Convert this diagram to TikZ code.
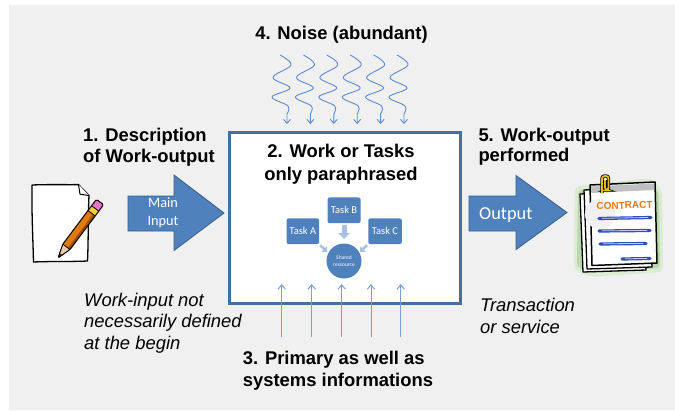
\documentclass[tikz,border=0pt]{standalone}
\usepackage{fontspec}
\setmainfont{Liberation Sans}
\newfontfamily\calfont{Carlito}
\usetikzlibrary{arrows.meta,calc}
\definecolor{bgc}{HTML}{F0F0F0}
\definecolor{boxb}{HTML}{41719C}
\definecolor{mblue}{HTML}{4F81BD}
\definecolor{dblue}{HTML}{385D8A}
\definecolor{lblue}{HTML}{A9C1E0}
\definecolor{nblue}{HTML}{5B8BD0}
\definecolor{ublue}{HTML}{7A9FD2}
\definecolor{pencilor}{HTML}{E07A10}
\definecolor{pencildk}{HTML}{A04E00}
\definecolor{wood}{HTML}{F2C9A0}
\definecolor{ferrule}{HTML}{F2D23C}
\definecolor{eraser}{HTML}{E874C8}
\definecolor{glowA}{HTML}{DCEBD4}
\definecolor{glowB}{HTML}{B9D9AC}
\definecolor{corange}{HTML}{F07818}
\definecolor{barblue}{HTML}{2E4EC0}
\definecolor{clipgold}{HTML}{E8B820}
\begin{document}
\begin{tikzpicture}[x=1pt,y=-1pt,
  lbl/.style={font=\fontsize{18.4}{21}\selectfont\bfseries, inner sep=0pt},
  ital/.style={font=\fontsize{18.4}{21}\selectfont\itshape, inner sep=0pt, anchor=base west},
  bigarrow/.style={fill=mblue, draw=dblue, line width=0.8pt},
  task/.style={fill=mblue, rounded corners=2pt, inner sep=0pt, text=white,
    font=\calfont\fontsize{10.5}{12}\selectfont, minimum height=25.7pt},
  smallarr/.style={draw=lblue, line width=2.6pt, -{Triangle[length=4pt,width=7.5pt]}},
  noise/.style={draw=nblue, line width=0.9pt, -{Straight Barb[length=4pt,width=7pt]}},
  uparr/.style={draw=ublue, line width=1pt, -{Straight Barb[length=4.5pt,width=7.5pt]}},
  wtext/.style={text=white, inner sep=0pt, anchor=base}
]
\useasboundingbox (0,0) rectangle (675,410);
\fill[white] (0,0) rectangle (675,410);
\fill[bgc] (9,5) rectangle (675,410);

% ---------- main box ----------
\node[draw=boxb, line width=2.5pt, fill=white, minimum width=231pt, minimum height=171pt,
      inner sep=0pt, anchor=north west] (box) at (228,131) {};
\node[lbl, anchor=base] (t2a) at (341,157) {2. Work or Tasks};
\node[lbl, anchor=base] (t2b) at (341,180) {only paraphrased};

% ---------- tasks ----------
\node[task, minimum width=33pt] (tb) at (344,210.3) {Task B};
\node[task, minimum width=32.5pt] (ta) at (302.8,231.2) {Task A};
\node[task, minimum width=33.5pt] (tc) at (385,231.2) {Task C};
\node[circle, fill=mblue, minimum size=35pt, inner sep=0pt, text=white,
      font=\calfont\fontsize{5.5}{6.5}\selectfont, align=center] (sr) at (344,261) {Shared\\ressource};
\draw[draw=lblue, line width=5pt, -{Triangle[length=6pt,width=12pt]}] ([yshift=-2pt]tb.south) -- ([yshift=4.5pt]sr.north);
\draw[smallarr] ([shift={(1pt,-1pt)}]ta.south east) -- ([shift={(8pt,-7.5pt)}]ta.south east);
\draw[smallarr] ([shift={(-1pt,-1pt)}]tc.south west) -- ([shift={(-8pt,-7.5pt)}]tc.south west);

% ---------- noise ----------
\node[lbl, anchor=base] (t4) at (341.5,39) {4. Noise (abundant)};
\foreach \c [count=\i] in {287,310.4,333.8,357.2,380.6,404}{
  \coordinate (ntip\i) at (\c,124);
  \draw[noise] plot[smooth, tension=0.6] coordinates {({\c-7},55) ({\c+4},65) ({\c-14},77.5) ({\c+3},88) ({\c-15},97) ({\c+1},106) ({\c},114)} -- (ntip\i);
}

% ---------- bottom info arrows ----------
\foreach \c [count=\i] in {281.7,311.7,341.7,371,400.7}{
  \coordinate (ub\i) at (\c,337);
  \coordinate (ut\i) at (\c,284);
  \draw[uparr] (ub\i) -- (ut\i);
}
\node[lbl, anchor=base west] (t3a) at (242.7,364.3) {3. Primary as well as};
\node[lbl, anchor=base west] (t3b) at (242.7,386.5) {systems informations};

% ---------- input side ----------
\node[lbl, anchor=base west] (t1a) at (83,141) {1. Description};
\node[lbl, anchor=base west] (t1b) at (83,162) {of Work-output};
\fill[bigarrow] (128,196) -- (174,196) -- (174,175) -- (224,213) -- (174,250.5) -- (174,231) -- (128,231) -- cycle;
\node[wtext, font=\calfont\fontsize{14.3}{17}\selectfont] (mi1) at (163,207.7) {Main};
\node[wtext, font=\calfont\fontsize{14.3}{17}\selectfont] (mi2) at (163,225) {Input};
\node[ital] (w1) at (84,306.7) {Work-input not};
\node[ital] (w2) at (84,327.9) {necessarily defined};
\node[ital] (w3) at (84,349.6) {at the begin};

% paper
\draw[black, line width=1.3pt, fill=white, line join=round]
  (32,185) .. controls (50,184.3) and (65,184.8) .. (78.5,184.6)
  -- (89,195.5)
  .. controls (88,215) and (88.5,240) .. (87.5,261)
  .. controls (70,261.8) and (50,261.2) .. (33.5,262)
  .. controls (33,240) and (31.5,210) .. (32,185) -- cycle;
\draw[black, line width=1pt, fill=white, line join=round] (78.5,184.6) -- (80,194.2) -- (89,195.5);
% pencil
\begin{scope}[shift={(58,258)}, x={(0.6pt,0.8pt)}, y={(0.8pt,-0.6pt)}]
  \fill[wood] (0,0) -- (14,4.5) -- (14,-4.5) -- cycle;
  \fill[pencilor] (14,-4.5) -- (56,-4.5) -- (56,4.5) -- (14,4.5) -- cycle;
  \fill[pencildk] (14,1.8) -- (56,1.8) -- (56,4.5) -- (14,4.5) -- cycle;
  \fill[ferrule] (56,-4.5) -- (62,-4.5) -- (62,4.5) -- (56,4.5) -- cycle;
  \fill[eraser, rounded corners=2pt] (62,-4.5) -- (70,-4.5) -- (70,4.5) -- (62,4.5) -- cycle;
  \fill[black!80] (0,0) -- (5,1.6) -- (5,-1.6) -- cycle;
  \draw[black, line width=1pt, line join=round, rounded corners=1.5pt] (0,0) -- (14,4.5) -- (70,4.5) -- (70,-4.5) -- (14,-4.5) -- cycle;
  \draw[black, line width=0.8pt] (14,-4.5) -- (14,4.5) (56,-4.5) -- (56,4.5) (62,-4.5) -- (62,4.5);
\end{scope}

% ---------- output side ----------
\node[lbl, anchor=base west] (t5a) at (478.3,141) {5. Work-output};
\node[lbl, anchor=base west] (t5b) at (478.3,161.7) {performed};
\fill[bigarrow] (469,196) -- (516,196) -- (516,175.5) -- (567,212.5) -- (516,249.5) -- (516,231) -- (469,231) -- cycle;
\node[text=white, inner sep=0pt, anchor=base west, font=\calfont\fontsize{18.3}{20}\selectfont] (out) at (479,219) {Output};
\node[ital] (tr1) at (480,311.7) {Transaction};
\node[ital] (tr2) at (480,333.3) {or service};

% contract clip art
\fill[glowA, rounded corners=6pt] (575,186) -- (652,178) -- (662,190) -- (663,272) -- (590,277) -- (574,270) -- cycle;
\fill[glowB, rounded corners=4pt] (578,190) -- (650,182) -- (659,192) -- (660,268) -- (590,273) -- (577,267) -- cycle;
\draw[black, line width=1.3pt, fill=white, line join=round] (580,194) -- (641,191) -- (646,270) -- (583,272) -- cycle;
\draw[black, line width=1.3pt, fill=white, line join=round] (584,190) -- (648,187) -- (652,267) -- (587,269) -- cycle;
\draw[black, line width=1.5pt, fill=white, line join=round] (590,185) -- (655,182) -- (657,263) -- (592,265.5) -- cycle;
\fill[black!25] (591,186.5) -- (654,183.5) -- (654.3,190) -- (591.3,193) -- cycle;
\fill[black!6] (600,214) circle (15pt);
\node[inner sep=0pt, font=\bfseries\fontsize{10}{10}\selectfont, text=corange, rotate=2] (ctr) at (624.5,205.5) {CONTRACT};
\draw[barblue, line width=3.2pt, line cap=round] (599,218.5) -- (651,217.5);
\draw[barblue, line width=3.2pt, line cap=round] (599,231) -- (650,230.5);
\draw[barblue, line width=3.2pt, line cap=round] (600,244) -- (646,243.5);
\draw[barblue, line width=3.2pt, line cap=round] (622,259) -- (650,258.5);
\draw[white!70!barblue, line width=0.8pt] (602,218.3) -- (648,217.5) (602,230.8) -- (647,230.4) (603,243.8) -- (643,243.4) (625,258.8) -- (647,258.4);
\draw[black, line width=3.4pt, rounded corners=2.5pt] (602,193) -- (602,176) -- (608.5,176) -- (608.5,190) -- (605,190) -- (605,180);
\draw[clipgold, line width=1.8pt, rounded corners=2.5pt] (602,193) -- (602,176) -- (608.5,176) -- (608.5,190) -- (605,190) -- (605,180);
\end{tikzpicture}
\end{document}
